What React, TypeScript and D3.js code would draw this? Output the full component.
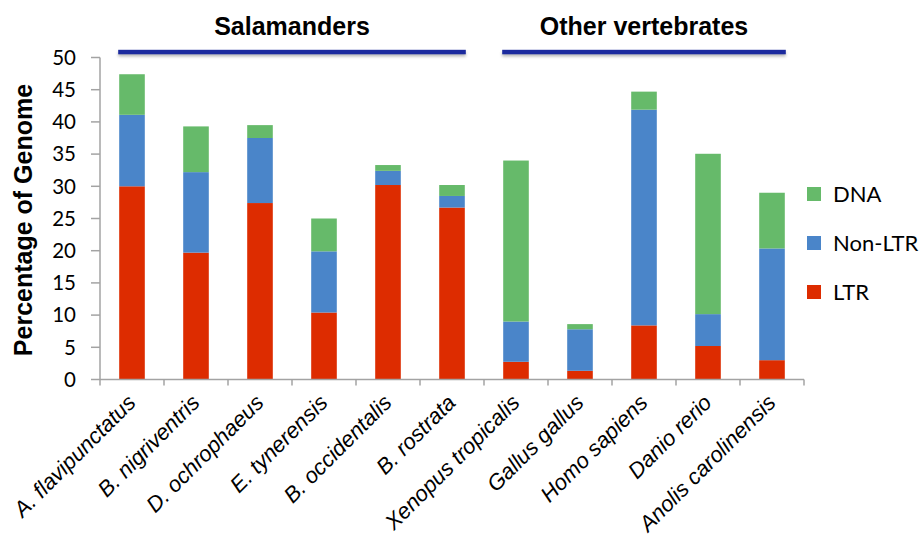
import React from "react";
import * as d3 from "d3";

const species = [
  "A. flavipunctatus",
  "B. nigriventris",
  "D. ochrophaeus",
  "E. tynerensis",
  "B. occidentalis",
  "B. rostrata",
  "Xenopus tropicalis",
  "Gallus gallus",
  "Homo sapiens",
  "Danio rerio",
  "Anolis carolinensis",
];
const ltr = [30.0, 19.7, 27.4, 10.4, 30.2, 26.7, 2.75, 1.35, 8.4, 5.2, 3.0];
const nonLtr = [11.1, 12.5, 10.1, 9.5, 2.2, 1.8, 6.25, 6.45, 33.5, 4.95, 17.35];
const dna = [6.3, 7.1, 2.0, 5.1, 0.9, 1.7, 25.0, 0.8, 2.8, 24.9, 8.65];
const yTicks = [0, 5, 10, 15, 20, 25, 30, 35, 40, 45, 50];
const seriesKeys = ["LTR", "Non-LTR", "DNA"];
const seriesColors = ["#dd2c00", "#4a85c9", "#66ba6a"];
const legendOrder = ["DNA", "Non-LTR", "LTR"];
const groups = [
  { label: "Salamanders", from: 0, to: 5 },
  { label: "Other vertebrates", from: 6, to: 10 },
];

const W = 920;
const H = 540;
const plotLeft = 100;
const plotRight = 804;
const y0 = 379.5;
const y50 = 57.5;

export default function App() {
  const rows = species.map((s, i) => ({
    name: s,
    LTR: ltr[i],
    "Non-LTR": nonLtr[i],
    DNA: dna[i],
  }));
  const x = d3.scaleBand<string>().domain(species).range([plotLeft, plotRight]).paddingInner(0.6).paddingOuter(0.3);
  const xOuter = d3.scaleBand<string>().domain(species).range([plotLeft, plotRight]);
  const y = d3.scaleLinear().domain([0, 50]).range([y0, y50]);
  const stack = d3.stack<any>().keys(seriesKeys);
  const stacked = stack(rows);
  const color = d3.scaleOrdinal<string, string>().domain(seriesKeys).range(seriesColors);
  const axisColor = "#a3a3a3";
  const tickFont = "Lato, 'Open Sans', sans-serif";

  return (
    <svg
      width={W}
      height={H}
      viewBox={`0 0 ${W} ${H}`}
      style={{ position: "absolute", left: 0, top: 0, background: "#fff" }}
    >
      <defs>
        <filter id="blur" filterUnits="userSpaceOnUse" x="0" y="0" width={W} height={H}>
          <feGaussianBlur stdDeviation="1.5" />
        </filter>
      </defs>
      <rect x={0} y={0} width={W} height={H} fill="#fff" />

      {/* group headers */}
      {groups.map((g) => {
        const x1 = x(species[g.from])! - 1;
        const x2 = x(species[g.to])! + x.bandwidth() + 1;
        return (
          <g key={g.label}>
            <rect x={x1} y={52} width={x2 - x1} height={4.5} fill="#8a8a8a" opacity={0.6} filter="url(#blur)" />
            <rect x={x1} y={49.8} width={x2 - x1} height={4.5} fill="#1b2a9e" />
            <text
              x={(x1 + x2) / 2}
              y={35}
              textAnchor="middle"
              fontFamily="'Liberation Sans', Arial, sans-serif"
              fontWeight="bold"
              fontSize={25}
              fill="#000"
            >
              {g.label}
            </text>
          </g>
        );
      })}

      {/* bars */}
      {stacked.map((layer) => (
        <g key={layer.key} fill={color(layer.key)}>
          {layer.map((d, i) => (
            <rect
              key={i}
              x={x(species[i])}
              width={x.bandwidth()}
              y={y(d[1])}
              height={y(d[0]) - y(d[1])}
            />
          ))}
        </g>
      ))}

      {/* y axis */}
      <line x1={plotLeft} x2={plotLeft} y1={y(50)} y2={y(0)} stroke={axisColor} strokeWidth={1.5} />
      {yTicks.map((t) => (
        <g key={t}>
          <line x1={plotLeft - 9} x2={plotLeft} y1={y(t)} y2={y(t)} stroke={axisColor} strokeWidth={1.5} />
          <text
            x={76}
            y={y(t)}
            dy="0.36em"
            textAnchor="end"
            fontFamily={tickFont}
            fontSize={20.5}
            fill="#000"
          >
            {t}
          </text>
        </g>
      ))}

      {/* x axis */}
      <line x1={plotLeft} x2={plotRight} y1={y(0)} y2={y(0)} stroke={axisColor} strokeWidth={1.5} />
      {[...species.map((s) => xOuter(s)!), plotRight].map((px, i) => (
        <line key={i} x1={px} x2={px} y1={y(0)} y2={y(0) + 6} stroke={axisColor} strokeWidth={1.5} />
      ))}
      {species.map((s) => {
        const cx = xOuter(s)! + xOuter.bandwidth() / 2;
        return (
          <text
            key={s}
            transform={`translate(${cx + 5},${404}) rotate(-45)`}
            textAnchor="end"
            fontFamily="'Liberation Sans', Arial, sans-serif"
            fontStyle="italic"
            fontSize={22}
            fill="#000"
          >
            {s}
          </text>
        );
      })}

      {/* y title */}
      <text
        transform={`translate(32,220) rotate(-90)`}
        textAnchor="middle"
        fontFamily="'Liberation Sans', Arial, sans-serif"
        fontWeight="bold"
        fontSize={25}
        fill="#000"
      >
        Percentage of Genome
      </text>

      {/* legend */}
      {legendOrder.map((k, i) => {
        const cy = 194 + i * 49;
        return (
          <g key={k}>
            <rect x={807} y={cy - 7} width={14} height={14} fill={color(k)} />
            <text x={833} y={cy} dy="0.36em" fontFamily={tickFont} fontSize={22} fill="#000">
              {k}
            </text>
          </g>
        );
      })}
    </svg>
  );
}
